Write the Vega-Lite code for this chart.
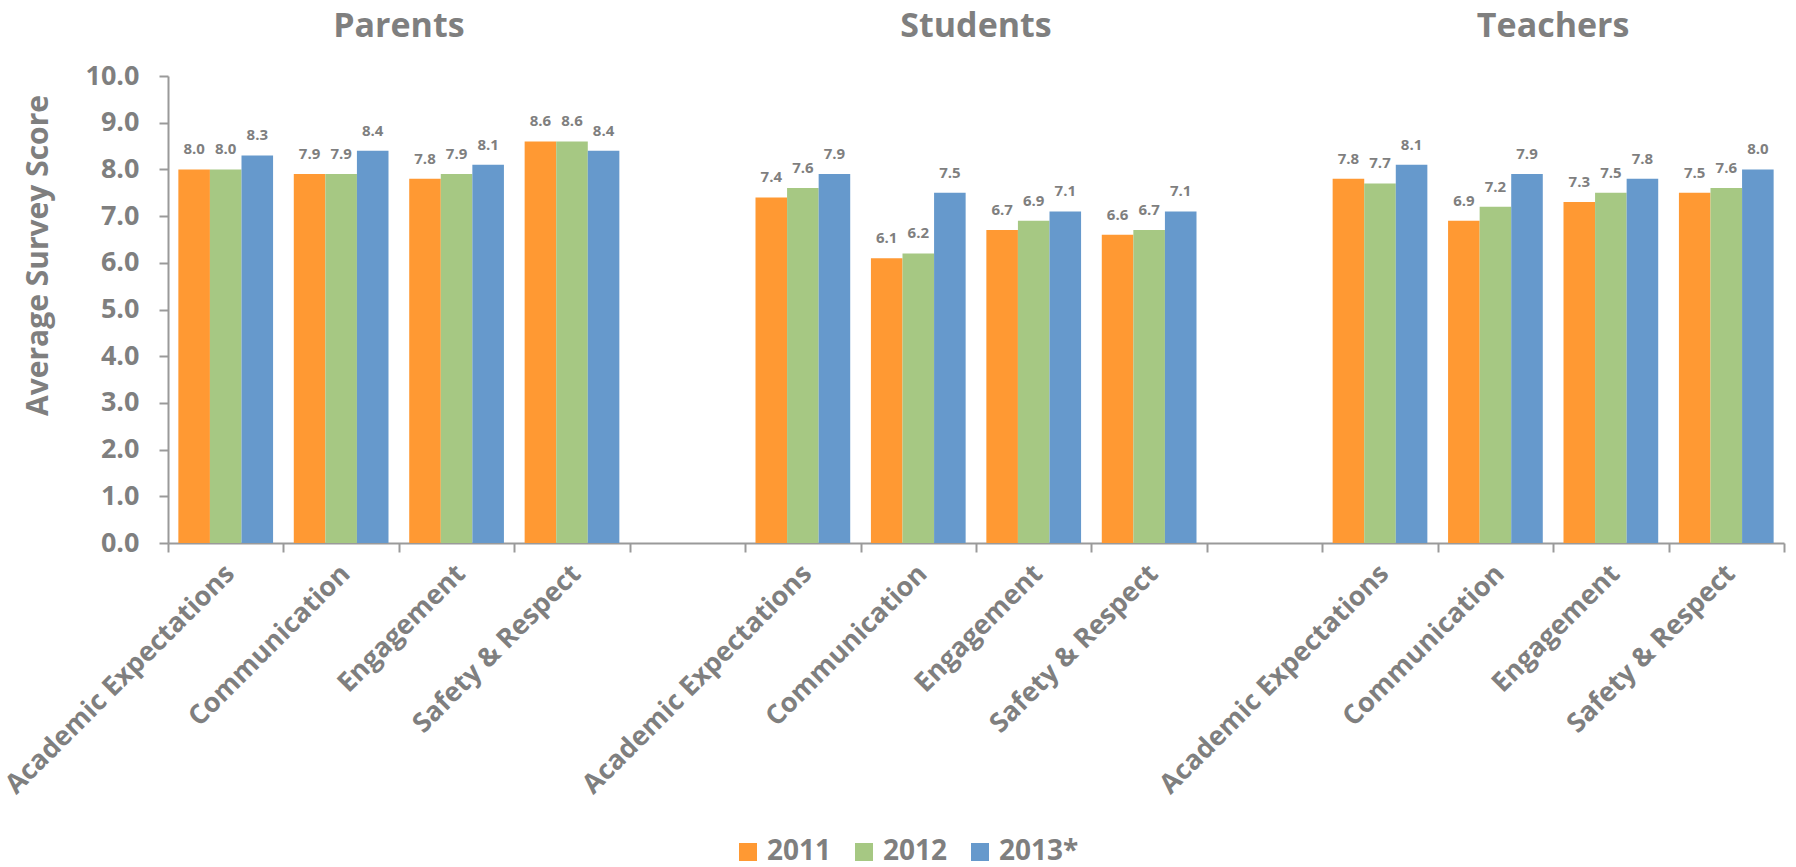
{
  "$schema": "https://vega.github.io/schema/vega-lite/v6.json",
  "width": 1616,
  "height": 467,
  "autosize": "none",
  "padding": {"left": 168, "top": 76, "right": 12, "bottom": 324},
  "background": "white",
  "config": {
    "view": {"stroke": null},
    "font": "Open Sans",
    "axis": {"grid": false}
  },
  "datasets": {
    "scores": [
      {"group": "Parents", "slot": "Parents|Academic Expectations", "year": "2011", "score": 8.0},
      {"group": "Parents", "slot": "Parents|Academic Expectations", "year": "2012", "score": 8.0},
      {"group": "Parents", "slot": "Parents|Academic Expectations", "year": "2013*", "score": 8.3},
      {"group": "Parents", "slot": "Parents|Communication", "year": "2011", "score": 7.9},
      {"group": "Parents", "slot": "Parents|Communication", "year": "2012", "score": 7.9},
      {"group": "Parents", "slot": "Parents|Communication", "year": "2013*", "score": 8.4},
      {"group": "Parents", "slot": "Parents|Engagement", "year": "2011", "score": 7.8},
      {"group": "Parents", "slot": "Parents|Engagement", "year": "2012", "score": 7.9},
      {"group": "Parents", "slot": "Parents|Engagement", "year": "2013*", "score": 8.1},
      {"group": "Parents", "slot": "Parents|Safety & Respect", "year": "2011", "score": 8.6},
      {"group": "Parents", "slot": "Parents|Safety & Respect", "year": "2012", "score": 8.6},
      {"group": "Parents", "slot": "Parents|Safety & Respect", "year": "2013*", "score": 8.4},
      {"group": "Students", "slot": "Students|Academic Expectations", "year": "2011", "score": 7.4},
      {"group": "Students", "slot": "Students|Academic Expectations", "year": "2012", "score": 7.6},
      {"group": "Students", "slot": "Students|Academic Expectations", "year": "2013*", "score": 7.9},
      {"group": "Students", "slot": "Students|Communication", "year": "2011", "score": 6.1},
      {"group": "Students", "slot": "Students|Communication", "year": "2012", "score": 6.2},
      {"group": "Students", "slot": "Students|Communication", "year": "2013*", "score": 7.5},
      {"group": "Students", "slot": "Students|Engagement", "year": "2011", "score": 6.7},
      {"group": "Students", "slot": "Students|Engagement", "year": "2012", "score": 6.9},
      {"group": "Students", "slot": "Students|Engagement", "year": "2013*", "score": 7.1},
      {"group": "Students", "slot": "Students|Safety & Respect", "year": "2011", "score": 6.6},
      {"group": "Students", "slot": "Students|Safety & Respect", "year": "2012", "score": 6.7},
      {"group": "Students", "slot": "Students|Safety & Respect", "year": "2013*", "score": 7.1},
      {"group": "Teachers", "slot": "Teachers|Academic Expectations", "year": "2011", "score": 7.8},
      {"group": "Teachers", "slot": "Teachers|Academic Expectations", "year": "2012", "score": 7.7},
      {"group": "Teachers", "slot": "Teachers|Academic Expectations", "year": "2013*", "score": 8.1},
      {"group": "Teachers", "slot": "Teachers|Communication", "year": "2011", "score": 6.9},
      {"group": "Teachers", "slot": "Teachers|Communication", "year": "2012", "score": 7.2},
      {"group": "Teachers", "slot": "Teachers|Communication", "year": "2013*", "score": 7.9},
      {"group": "Teachers", "slot": "Teachers|Engagement", "year": "2011", "score": 7.3},
      {"group": "Teachers", "slot": "Teachers|Engagement", "year": "2012", "score": 7.5},
      {"group": "Teachers", "slot": "Teachers|Engagement", "year": "2013*", "score": 7.8},
      {"group": "Teachers", "slot": "Teachers|Safety & Respect", "year": "2011", "score": 7.5},
      {"group": "Teachers", "slot": "Teachers|Safety & Respect", "year": "2012", "score": 7.6},
      {"group": "Teachers", "slot": "Teachers|Safety & Respect", "year": "2013*", "score": 8.0}
    ],
    "groups": [
      {"group": "Parents", "slot": "Parents|Engagement"},
      {"group": "Students", "slot": "Students|Engagement"},
      {"group": "Teachers", "slot": "Teachers|Engagement"}
    ]
  },
  "layer": [
    {
      "data": {"name": "scores"},
      "mark": {"type": "bar"},
      "encoding": {
        "x": {
          "field": "slot",
          "type": "nominal",
          "sort": null,
          "scale": {
            "domain": [
              "Parents|Academic Expectations", "Parents|Communication", "Parents|Engagement", "Parents|Safety & Respect",
              "gap1",
              "Students|Academic Expectations", "Students|Communication", "Students|Engagement", "Students|Safety & Respect",
              "gap2",
              "Teachers|Academic Expectations", "Teachers|Communication", "Teachers|Engagement", "Teachers|Safety & Respect"
            ],
            "paddingInner": 0,
            "paddingOuter": 0
          },
          "axis": {
            "title": null,
            "tickBand": "extent",
            "ticks": true,
            "tickSize": 9,
            "tickWidth": 2,
            "tickColor": "#9a9a9a",
            "domainColor": "#9a9a9a",
            "domainWidth": 2,
            "labelExpr": "indexof(datum.label, '|') >= 0 ? split(datum.label, '|')[1] : ''",
            "labelAngle": -45,
            "labelAlign": "right",
            "labelBaseline": "top",
            "labelPadding": 8,
            "labelOffset": -5,
            "labelFontSize": 27,
            "labelFontWeight": "bold",
            "labelColor": "#7f7f7f",
            "labelLimit": 500,
            "labelOverlap": false,
            "labelBound": false
          }
        },
        "xOffset": {
          "field": "year",
          "type": "nominal",
          "scale": {"domain": ["2011", "2012", "2013*"], "paddingInner": 0, "paddingOuter": 0.328}
        },
        "y": {
          "field": "score",
          "type": "quantitative",
          "scale": {"domain": [0, 10], "nice": false},
          "axis": {
            "title": "Average Survey Score",
            "titleFontSize": 30,
            "titleFontWeight": "bold",
            "titleColor": "#7f7f7f",
            "titleAngle": -90,
            "titleX": -130,
            "titleY": 179,
            "titleAlign": "center",
            "titleBaseline": "middle",
            "values": [0, 1, 2, 3, 4, 5, 6, 7, 8, 9, 10],
            "format": ".1f",
            "tickSize": 9,
            "tickWidth": 2,
            "tickColor": "#9a9a9a",
            "domainColor": "#9a9a9a",
            "domainWidth": 2,
            "labelPadding": 20,
            "labelFontSize": 27,
            "labelFontWeight": "bold",
            "labelColor": "#7f7f7f"
          }
        },
        "color": {
          "field": "year",
          "type": "nominal",
          "scale": {"domain": ["2011", "2012", "2013*"], "range": ["#FF9933", "#A6C883", "#6699CC"]},
          "legend": {
            "title": null,
            "orient": "none",
            "legendX": 566,
            "legendY": 762,
            "direction": "horizontal",
            "gridAlign": "all",
            "symbolType": "square",
            "symbolSize": 324,
            "symbolStrokeWidth": 0,
            "symbolOpacity": 1,
            "labelFontSize": 28,
            "labelFontWeight": "bold",
            "labelColor": "#7f7f7f",
            "labelOffset": 5,
            "columnPadding": 3
          }
        }
      }
    },
    {
      "data": {"name": "scores"},
      "mark": {"type": "text", "baseline": "alphabetic", "dy": -15, "fontSize": 15, "fontWeight": "bold", "color": "#7f7f7f"},
      "encoding": {
        "x": {"field": "slot", "type": "nominal"},
        "xOffset": {"field": "year", "type": "nominal"},
        "y": {"field": "score", "type": "quantitative"},
        "text": {"field": "score", "type": "quantitative", "format": ".1f"}
      }
    },
    {
      "data": {"name": "groups"},
      "mark": {"type": "text", "baseline": "middle", "align": "center", "fontSize": 34, "fontWeight": "bold", "color": "#7f7f7f"},
      "encoding": {
        "x": {"field": "slot", "type": "nominal", "bandPosition": 0},
        "y": {"datum": 11.05, "type": "quantitative"},
        "text": {"field": "group", "type": "nominal"}
      }
    }
  ]
}
